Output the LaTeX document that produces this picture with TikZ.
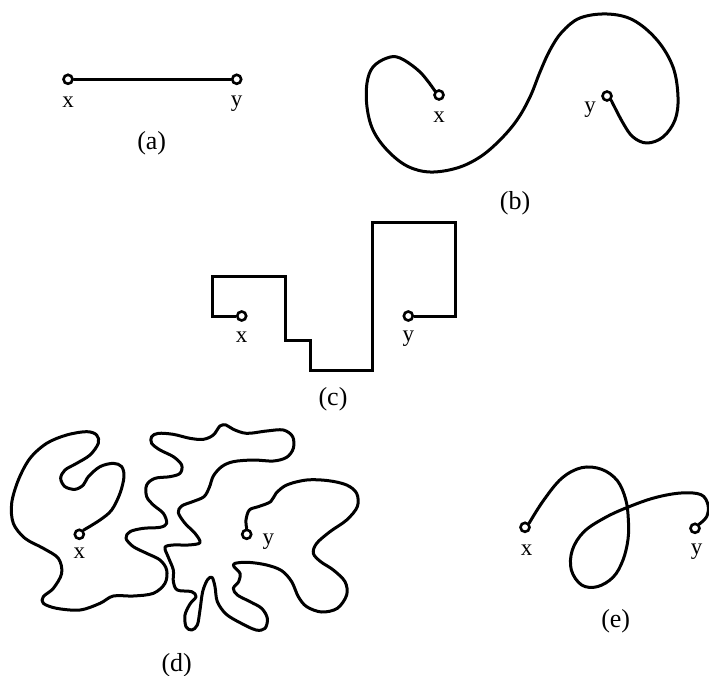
\documentclass[tikz,border=0pt]{standalone}
\usepackage{fontspec}
\setmainfont{Liberation Serif}
\begin{document}
\begin{tikzpicture}[x=1pt,y=-1pt,
  pt/.style={circle,draw,line width=2.6pt,minimum size=9pt,inner sep=0pt},
  lbl/.style={font=\fontsize{23}{23}\selectfont,inner sep=0pt},
  capt/.style={font=\fontsize{26}{26}\selectfont,inner sep=0pt},
  wire/.style={line width=3pt,line join=round,line cap=round}]
\useasboundingbox (0,0) rectangle (709,676);

% (a)
\node[pt] (xa) at (68,79.3) {};
\node[pt] (ya) at (236.7,79.3) {};
\draw[wire] (xa) -- (ya);
\node[lbl] (lxa) at (68,102) {x};
\node[lbl] (lya) at (236.7,104) {y};
\node[capt] (ca) at (151.7,143.3) {(a)};

% (b)
\node[pt] (xb) at (439,95) {};
\node[pt] (yb) at (607,96) {};
\draw[wire] plot[smooth,tension=0.6] coordinates {(xb.north west) (420,72) (400,58) (387,58) (373,67) (367,83) (367,107) (373,130) (387,150) (407,166) (430,172) (457,168) (480,157) (500,140) (517,120) (530,97) (540,72) (550,50) (562,32) (580,18) (607,14) (633,20) (657,40) (673,67) (678,97) (675,120) (663,137) (647,143) (633,137) (623,123) (yb.south east)};
\node[lbl] (lxb) at (439,117) {x};
\node[lbl] (lyb) at (590,110) {y};
\node[capt] (cb) at (515,203) {(b)};

% (c)
\node[pt] (xc) at (241.7,316) {};
\node[pt] (yc) at (408.3,316) {};
\draw[wire,line cap=butt,line join=miter] (xc.west) -- (212.7,316) -- (212.7,276.7) -- (285.7,276.7) -- (285.7,340.7) -- (310,340.7) -- (310,370) -- (372.7,370) -- (372.7,222.3) -- (455,222.3) -- (455,316) -- (yc.east);
\node[lbl] (lxc) at (241.7,337) {x};
\node[lbl] (lyc) at (408.3,338.5) {y};
\node[capt] (cc) at (333,399) {(c)};

% (d)
\node[pt] (xd) at (79.3,534.3) {};
\node[pt] (yd) at (246.7,534.3) {};
\begin{scope}[shift={(0pt,-400pt)},x=0.33333pt,y=-0.33333pt]
\draw[wire] plot[smooth,tension=0.55] coordinates {(xd.north east) (300,360) (335,330) (360,280) (372,230) (365,200) (340,190) (300,200) (265,230) (250,255) (225,268) (195,260) (182,235) (195,210) (230,190) (270,165) (295,130) (290,105) (260,95) (200,105) (140,130) (90,175) (55,240) (35,310) (40,370) (75,415) (130,445) (175,475) (185,520) (160,565) (130,590) (130,610) (170,625) (240,630) (300,610) (340,588) (400,588) (460,580) (495,550) (500,510) (480,480) (440,460) (400,440) (378,415) (390,395) (430,385) (480,382) (500,370) (490,340) (460,315) (440,290) (440,255) (465,235) (510,230) (540,220) (545,195) (520,170) (480,150) (455,130) (455,110) (475,100) (520,103) (570,115) (610,118) (640,105) (660,78) (678,75) (700,88) (740,100) (800,93) (850,90) (878,110) (880,145) (860,172) (820,183) (760,180) (700,185) (665,200) (640,228) (628,262) (612,290) (578,305) (545,318) (535,338) (555,370) (585,400) (600,428) (565,435) (520,435) (495,442) (505,472) (520,510) (520,545) (532,570) (575,575) (588,590) (570,612) (555,645) (558,680) (575,690) (592,675) (600,630) (608,575) (622,540) (636,532) (645,560) (652,605) (678,642) (720,668) (768,690) (795,685) (802,655) (785,625) (750,605) (712,585) (700,565) (716,545) (720,520) (702,500) (705,490) (745,487) (800,495) (845,512) (875,545) (895,590) (920,620) (965,636) (1012,625) (1040,585) (1035,545) (1000,510) (962,485) (940,460) (950,430) (990,395) (1040,360) (1072,320) (1070,280) (1040,255) (985,242) (920,240) (860,255) (828,280) (812,305) (775,320) (748,330) (738,360) (yd.north)};
\end{scope}
\node[lbl] (lxd) at (79.3,553.3) {x};
\node[lbl] (lyd) at (268.3,541.7) {y};
\node[capt] (cd) at (176.7,665) {(d)};

% (e)
\node[pt] (xe) at (525,527.3) {};
\node[pt] (ye) at (695,528.3) {};
\begin{scope}[shift={(500pt,-450pt)},x=0.33333pt,y=-0.33333pt]
\draw[wire] plot[smooth,tension=0.6] coordinates {(xe.north east) (130,152) (185,85) (245,53) (305,58) (352,92) (377,148) (385,208) (384,268) (369,330) (340,381) (292,410) (245,405) (214,360) (217,300) (252,245) (315,203) (385,171) (465,143) (543,129) (603,134) (624,165) (620,200) (ye.north east)};
\end{scope}
\node[lbl] (lxe) at (526.7,550) {x};
\node[lbl] (lye) at (696.7,552) {y};
\node[capt] (ce) at (615.7,621.7) {(e)};
\end{tikzpicture}
\end{document}
